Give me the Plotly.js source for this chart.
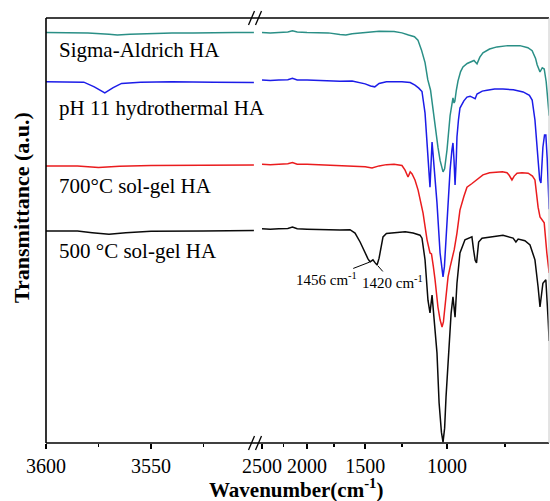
<!DOCTYPE html>
<html>
<head>
<meta charset="utf-8">
<script src="https://cdn.plot.ly/plotly-3.0.1.min.js"></script>
<style>html,body{margin:0;padding:0;background:#fff;}#chart{width:550px;height:501px;}</style>
</head>
<body>
<div id="chart"></div>
<script>
// ---------- DATA (wavenumber in cm^-1, transmittance in a.u., curves offset) ----------
const seriesNames = ["Sigma-Aldrich HA", "pH 11 hydrothermal HA", "700°C sol-gel HA", "500 °C sol-gel HA"];

// left segment (3600-3500 cm-1)
const sigmaWnL = [3600, 3590, 3580, 3570, 3566, 3560, 3550, 3540, 3530, 3520, 3510, 3501];
const sigmaTL  = [96.6, 96.6, 96.5, 96.2, 96.0, 96.2, 96.4, 96.5, 96.5, 96.6, 96.6, 96.6];
const phWnL    = [3600, 3590, 3582, 3577, 3572, 3568, 3564, 3555, 3540, 3520, 3501];
const phTL     = [85.0, 85.0, 84.9, 83.8, 82.4, 83.6, 84.6, 84.9, 85.0, 84.9, 84.8];
const sg700WnL = [3600, 3585, 3575, 3565, 3550, 3525, 3501];
const sg700TL  = [65.2, 65.2, 64.8, 65.1, 65.3, 65.3, 65.4];
const sg500WnL = [3600, 3585, 3578, 3570, 3562, 3550, 3525, 3501];
const sg500TL  = [49.9, 49.9, 49.5, 49.1, 49.5, 49.8, 49.9, 50.0];

// right segment (2500-600 cm-1)
const sigmaWnR = [2500, 2400, 2300, 2200, 2150, 2100, 2000, 1900, 1800, 1700, 1650, 1600, 1500, 1400, 1300, 1250, 1210, 1175, 1155, 1135, 1115, 1100, 1085, 1072, 1058, 1046, 1035, 1025, 1020, 1012, 1000, 985, 971, 966, 962, 955, 947, 935, 924, 905, 892, 875, 862, 850, 837, 810, 781, 740, 697, 670, 656, 645, 640, 631, 624, 618, 612, 606, 603];
const sigmaTR  = [96.6, 96.5, 96.6, 96.7, 97.0, 96.7, 96.6, 96.6, 96.5, 96.1, 96.0, 96.3, 96.6, 96.9, 96.8, 96.5, 96.0, 95.6, 94.8, 92.5, 89.5, 85.5, 83.0, 78.4, 74.0, 69.6, 66.5, 64.3, 63.8, 64.5, 69.0, 77.0, 81.2, 80.0, 80.4, 83.0, 85.2, 87.4, 88.5, 89.3, 89.6, 90.0, 89.2, 90.8, 91.8, 92.7, 93.2, 93.5, 93.5, 93.0, 92.3, 90.5, 89.0, 87.3, 88.3, 88.0, 85.0, 80.0, 77.0];

const phWnR = [2500, 2400, 2300, 2200, 2150, 2100, 2000, 1900, 1800, 1700, 1600, 1500, 1460, 1430, 1400, 1350, 1300, 1250, 1200, 1172, 1150, 1132, 1115, 1099, 1092, 1088, 1082, 1077, 1072, 1060, 1051, 1035, 1025, 1020, 1013, 1005, 995, 985, 976, 971, 966, 961, 955, 952, 945, 938, 920, 906, 892, 879, 870, 862, 840, 820, 790, 758, 720, 686, 665, 656, 647, 637, 632, 628, 622, 617, 613, 609, 606, 603];
const phTR  = [85.4, 85.3, 85.4, 85.5, 85.8, 85.4, 85.4, 85.3, 85.2, 85.1, 85.2, 84.5, 84.0, 83.8, 84.6, 85.0, 85.0, 85.0, 84.8, 84.2, 83.5, 82.7, 77.6, 68.2, 62.5, 60.2, 66.0, 70.8, 68.2, 62.0, 56.5, 44.7, 40.2, 39.1, 41.5, 48.5, 57.0, 64.2, 69.0, 70.6, 66.6, 60.7, 67.0, 72.0, 76.0, 78.8, 80.5, 81.4, 81.6, 81.2, 81.0, 82.1, 82.8, 83.0, 83.3, 83.3, 83.1, 82.6, 81.8, 80.7, 76.0, 66.6, 62.0, 61.2, 69.6, 72.5, 72.5, 67.0, 60.2, 55.0];

const sg700WnR = [2500, 2400, 2300, 2200, 2150, 2100, 2000, 1900, 1800, 1700, 1600, 1500, 1450, 1400, 1350, 1300, 1250, 1231, 1213, 1200, 1189, 1172, 1154, 1140, 1126, 1104, 1088, 1080, 1077, 1070, 1061, 1046, 1035, 1025, 1018, 1010, 995, 985, 975, 971, 965, 952, 938, 920, 906, 885, 862, 837, 810, 781, 760, 743, 735, 725, 717, 707, 690, 669, 655, 647, 637, 631, 625, 618, 610, 603];
const sg700TR  = [65.6, 65.5, 65.6, 65.7, 66.0, 65.6, 65.6, 65.5, 65.5, 65.4, 65.3, 65.0, 64.7, 65.2, 65.5, 65.6, 65.3, 64.2, 62.6, 63.8, 63.3, 61.9, 59.5, 57.0, 54.1, 47.8, 44.7, 44.5, 43.8, 41.5, 38.4, 32.0, 29.0, 27.3, 28.5, 32.0, 39.1, 41.4, 43.5, 44.7, 45.5, 49.4, 54.8, 58.0, 60.2, 61.0, 61.9, 63.1, 63.6, 63.8, 63.8, 63.6, 63.0, 61.9, 62.8, 63.5, 63.6, 63.5, 62.8, 61.9, 55.5, 53.2, 52.6, 51.8, 44.7, 40.0];

const sg500WnR = [2500, 2400, 2300, 2200, 2150, 2100, 2000, 1900, 1785, 1700, 1617, 1577, 1538, 1501, 1480, 1464, 1443, 1430, 1414, 1400, 1393, 1373, 1350, 1326, 1281, 1230, 1183, 1160, 1143, 1132, 1115, 1099, 1088, 1077, 1072, 1060, 1051, 1040, 1028, 1020, 1012, 1005, 990, 980, 971, 961, 952, 938, 915, 895, 884, 877, 870, 864, 860, 855, 841, 808, 758, 721, 711, 703, 680, 663, 647, 637, 631, 622, 613, 606, 603];
const sg500TR  = [50.4, 50.3, 50.4, 50.5, 50.8, 50.4, 50.3, 50.2, 50.1, 50.1, 50.2, 49.4, 47.3, 44.7, 43.4, 42.6, 43.1, 42.5, 41.9, 43.5, 44.7, 48.5, 49.3, 49.4, 49.6, 49.7, 49.4, 49.2, 48.9, 48.2, 43.1, 33.6, 30.6, 34.8, 32.0, 27.0, 21.2, 9.4, 2.5, 0.2, 3.5, 10.8, 24.2, 30.5, 34.4, 29.6, 37.6, 44.7, 47.8, 48.3, 48.5, 45.5, 43.0, 42.4, 45.0, 47.3, 48.2, 48.5, 48.9, 48.2, 47.3, 48.0, 47.6, 46.6, 43.1, 36.7, 32.0, 37.6, 38.4, 28.9, 24.0];

const colors = ["#2a8f86", "#1c1ce8", "#ea1c1e", "#0a0a0a"];

const leftTicks = [3600, 3550];
const leftMinor = [3575, 3525];
const rightTicks = [2500, 2000, 1500, 1000];
const rightMinor = [2250, 1750, 1250, 750];

const peakLabels = [{wn: 1464, text: "1456 cm<sup>-1</sup>"}, {wn: 1414, text: "1420 cm<sup>-1</sup>"}];

// ---------- BUILD ----------
const segsL = [[sigmaWnL, sigmaTL], [phWnL, phTL], [sg700WnL, sg700TL], [sg500WnL, sg500TL]];
const segsR = [[sigmaWnR, sigmaTR], [phWnR, phTR], [sg700WnR, sg700TR], [sg500WnR, sg500TR]];
const traces = [];
for (let i = 0; i < 4; i++) {
  traces.push({x: segsL[i][0], y: segsL[i][1], xaxis: 'x', yaxis: 'y', mode: 'lines', name: seriesNames[i],
    line: {color: colors[i], width: 1.5}, hoverinfo: 'skip'});
  traces.push({x: segsR[i][0], y: segsR[i][1], xaxis: 'x2', yaxis: 'y', mode: 'lines', name: seriesNames[i],
    line: {color: colors[i], width: 1.5}, hoverinfo: 'skip'});
}

const W = 550, H = 501, ML = 46, MR = 1, MT = 18, MB = 58;
const PW = W - ML - MR, PH = H - MT - MB;
const px = v => (v - ML) / PW;            // pixel -> paper x
const py = v => (H - MB - v) / PH;        // pixel -> paper y

const serif = '"Liberation Serif", "Times New Roman", Times, serif';
const tickCommon = {ticks: 'outside', ticklen: 5, tickwidth: 1.3, tickcolor: '#000', showgrid: false,
  zeroline: false, showline: false, anchor: 'y', tickfont: {family: serif, size: 20, color: '#000'}};

const annotations = [];
const labelY = [50, 108, 186, 251];
seriesNames.forEach((n, i) => annotations.push({xref: 'paper', yref: 'paper', x: px(57), y: py(labelY[i]),
  xanchor: 'left', yanchor: 'middle', text: n, showarrow: false, font: {family: serif, size: 21, color: '#000'}}));

const offs = [[-44, 17], [15, 17]];
peakLabels.forEach((p, k) => {
  const idx = sg500WnR.indexOf(p.wn);
  annotations.push({xref: 'x2', yref: 'y', x: Math.log10(p.wn), y: sg500TR[idx], text: p.text,
    showarrow: true, arrowhead: 0, arrowwidth: 1, arrowcolor: '#000', standoff: 1,
    ax: offs[k][0], ay: offs[k][1], font: {family: serif, size: 15, color: '#000'}});
});

annotations.push({xref: 'paper', yref: 'paper', x: px(22), y: py(208), textangle: -90, showarrow: false,
  text: '<b>Transmittance (a.u.)</b>', font: {family: serif, size: 22, color: '#000'}, xanchor: 'center', yanchor: 'middle'});
annotations.push({xref: 'paper', yref: 'paper', x: px(296), y: py(488), showarrow: false,
  text: '<b>Wavenumber(cm<sup>-1</sup>)</b>', font: {family: serif, size: 21, color: '#000'}, xanchor: 'center', yanchor: 'middle'});

const axLine = {color: '#000', width: 1.6};
const brk = px(255.5);
const shapes = [
  {type: 'line', xref: 'paper', yref: 'paper', x0: 0, x1: 1, y0: 0, y1: 0, line: axLine},
  {type: 'line', xref: 'paper', yref: 'paper', x0: 0, x1: 1, y0: 1, y1: 1, line: axLine},
  {type: 'line', xref: 'paper', yref: 'paper', x0: 0, x1: 0, y0: 0, y1: 1, line: axLine},
  {type: 'line', xref: 'paper', yref: 'paper', x0: 1, x1: 1, y0: 0, y1: 1, line: {color: '#c8c8c8', width: 1}},
];
[0, 1].forEach(yy => {
  [[-7, -1], [0, 6]].forEach(([a, b]) => shapes.push({type: 'line', xref: 'paper', yref: 'paper',
    xsizemode: 'pixel', xanchor: brk, ysizemode: 'pixel', yanchor: yy,
    x0: a, x1: b, y0: -7, y1: 7, line: {color: '#000', width: 1.3}}));
});

const layout = {
  width: W, height: H, margin: {l: ML, r: MR, t: MT, b: MB, pad: 0},
  paper_bgcolor: '#fff', plot_bgcolor: '#fff', showlegend: false,
  font: {family: serif, size: 20, color: '#000'},
  xaxis: Object.assign({}, tickCommon, {domain: [0, px(256)], range: [3600, 3500],
    tickmode: 'array', tickvals: leftTicks, ticktext: leftTicks.map(String),
    minor: {tickmode: 'array', tickvals: leftMinor, ticks: 'outside', ticklen: 3, tickwidth: 1.3, tickcolor: '#000', showgrid: false}}),
  xaxis2: Object.assign({}, tickCommon, {domain: [px(258), 1], type: 'log',
    range: [Math.log10(2550), Math.log10(603.5)],
    tickmode: 'array', tickvals: rightTicks, ticktext: rightTicks.map(String),
    minor: {tickmode: 'array', tickvals: rightMinor, ticks: 'outside', ticklen: 3, tickwidth: 1.3, tickcolor: '#000', showgrid: false}}),
  yaxis: {range: [0, 100], showticklabels: false, ticks: '', showgrid: false, zeroline: false, showline: false},
  annotations: annotations,
  shapes: shapes
};

Plotly.newPlot('chart', traces, layout, {staticPlot: true, displayModeBar: false});
</script>
</body>
</html>
